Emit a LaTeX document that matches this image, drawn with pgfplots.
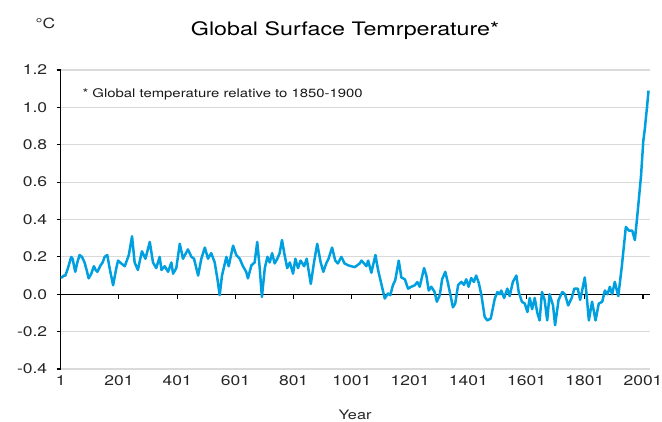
\documentclass[border=0pt]{standalone}
\usepackage{fontspec}
\setmainfont{TeX Gyre Heros}[FakeStretch=1.25]
\usepackage{pgfplots}
\pgfplotsset{compat=1.18}
\definecolor{linec}{RGB}{0,160,224}
\definecolor{gridc}{RGB}{218,218,218}
\begin{document}
\begin{tikzpicture}[x=1pt,y=1pt]
\useasboundingbox (0,0) rectangle (662,421);
\begin{axis}[
  at={(60.7pt,52pt)}, anchor=south west,
  scale only axis, width=589.3pt, height=299pt,
  xmin=1, xmax=2025, ymin=-0.4, ymax=1.2,
  axis y line*=left, axis x line*=bottom,
  x axis line style={draw=none},
  y axis line style={black, line width=1.1pt},
  xtick={1,201,...,2001},
  ytick={-0.4,-0.2,0,0.2,0.4,0.6,0.8,1.0,1.2},
  xtick style={draw=none},
  ytick style={black, line width=1.1pt},
  tick align=outside, major tick length=4pt,
  ymajorgrids, grid style={gridc, line width=1.2pt},
  /pgf/number format/assume math mode=true,
  ticklabel style={font=\fontsize{14}{16}\selectfont, text=black!85},
  xticklabel style={/tikz/yshift=1pt, /pgf/number format/.cd, set thousands separator={}},
  yticklabel style={/tikz/xshift=-6pt, /pgf/number format/.cd, fixed, fixed zerofill, precision=1},
  clip=false,
]
\draw[black, line width=1.1pt] (axis cs:1,0) -- (axis cs:2025,0);
\pgfplotsinvokeforeach{1,201,401,601,801,1001,1201,1401,1601,1801,2001}{
  \draw[black, line width=1.1pt] (axis cs:#1,0) -- ([yshift=-5pt]axis cs:#1,0);
}
\addplot[linec, line width=2.5pt, line join=round, mark=none] table {
x y
1 0.09
5 0.09
12 0.10
17 0.10
26 0.14
37 0.20
42 0.19
47 0.15
51 0.12
58 0.17
66 0.21
74 0.20
83 0.17
90 0.13
97 0.085
106 0.11
115 0.15
121 0.13
127 0.12
138 0.155
145 0.17
152 0.20
161 0.21
169 0.14
181 0.048
192 0.14
198 0.18
209 0.165
221 0.15
235 0.21
246 0.31
255 0.17
266 0.13
280 0.23
292 0.19
307 0.28
318 0.17
329 0.14
341 0.20
347 0.13
358 0.15
370 0.12
381 0.17
387 0.11
398 0.14
410 0.27
421 0.19
438 0.24
450 0.20
459 0.19
473 0.10
484 0.19
496 0.25
507 0.19
518 0.22
530 0.17
539 0.085
547 -0.005
555 0.10
570 0.20
578 0.15
593 0.26
604 0.21
616 0.19
627 0.15
638 0.12
644 0.085
656 0.155
667 0.17
676 0.28
684 0.15
692 -0.015
702 0.14
711 0.20
719 0.17
727 0.22
736 0.165
745 0.19
753 0.22
761 0.29
770 0.21
779 0.14
788 0.17
799 0.11
807 0.19
816 0.14
825 0.18
837 0.15
846 0.19
860 0.055
871 0.17
882 0.27
894 0.17
903 0.12
913 0.165
921 0.19
933 0.25
944 0.18
953 0.165
965 0.20
976 0.165
988 0.155
999 0.15
1011 0.145
1028 0.165
1034 0.18
1043 0.165
1051 0.15
1057 0.18
1068 0.115
1082 0.21
1091 0.13
1102 0.057
1114 -0.023
1125 0.004
1133 -0.005
1142 0.048
1150 0.075
1162 0.18
1171 0.09
1183 0.08
1194 0.03
1205 0.04
1217 0.048
1226 0.065
1234 0.04
1249 0.14
1257 0.10
1265 0.02
1274 0.04
1285 0.013
1293 -0.04
1303 -0.005
1311 0.08
1322 0.12
1331 0.06
1341 -0.015
1348 -0.07
1356 -0.05
1366 0.05
1377 0.066
1386 0.05
1394 0.08
1402 0.04
1411 0.087
1420 0.066
1428 0.10
1437 0.06
1446 -0.005
1457 -0.12
1466 -0.14
1478 -0.13
1492 -0.023
1501 0.012
1509 0.0
1514 0.02
1524 -0.02
1535 0.03
1543 -0.01
1554 0.066
1566 0.10
1574 0.012
1585 -0.04
1595 -0.05
1604 -0.095
1612 -0.02
1620 -0.08
1629 -0.02
1638 -0.10
1646 -0.14
1654 0.012
1663 -0.03
1672 -0.14
1680 0.0
1692 -0.06
1699 -0.166
1711 -0.03
1724 0.012
1733 0.0
1744 -0.06
1756 -0.02
1765 0.03
1777 0.03
1785 -0.03
1792 0.02
1801 0.09
1807 0.0
1815 -0.14
1826 -0.04
1838 -0.14
1849 -0.05
1861 -0.04
1870 0.02
1879 0.0
1887 0.04
1895 0.0
1904 0.066
1916 -0.01
1928 0.146
1942 0.36
1953 0.34
1964 0.34
1973 0.29
1982 0.43
1994 0.63
2002 0.82
2008 0.895
2010 0.93
2014 0.99
2020 1.09
};
\end{axis}
\node[font=\fontsize{18.6}{22}\selectfont, text=black, anchor=base] at (345,385) {Global Surface Temrperature*};
\node[font=\fontsize{14}{16}\selectfont, text=black!85, anchor=base west] at (32,392.7) {°C};
\node[font=\fontsize{11.9}{13}\selectfont, text=black!90, anchor=base west] at (79,323.7) {* Global temperature relative to 1850-1900};
\node[font=\fontsize{13}{15}\selectfont, text=black!85, anchor=base] at (355,1.5) {Year};
\end{tikzpicture}
\end{document}
